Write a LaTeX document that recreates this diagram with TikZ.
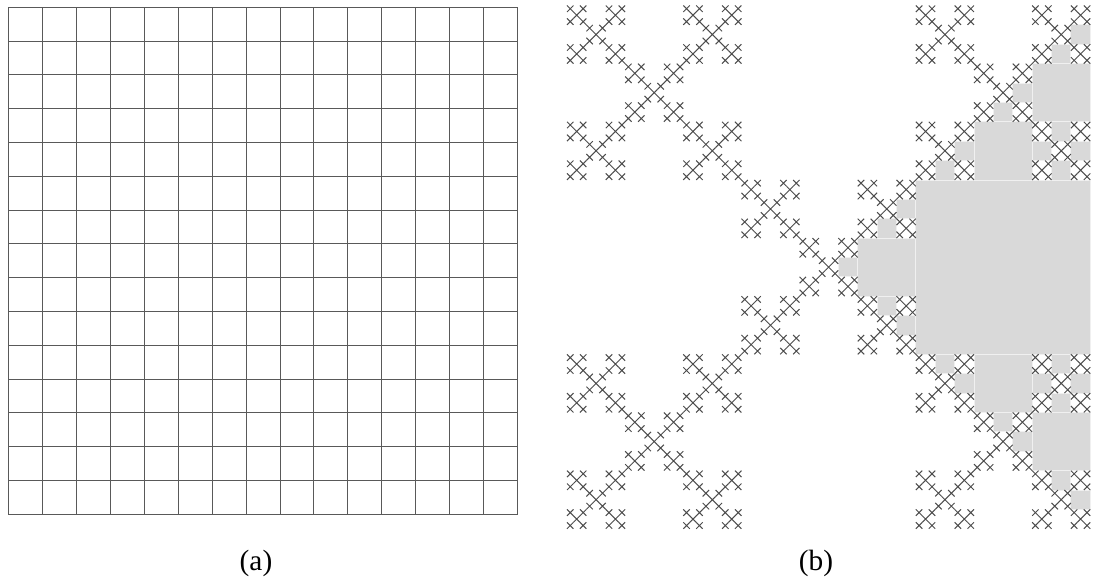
\documentclass[tikz,border=0pt]{standalone}
\usepackage{fontspec}
\setmainfont{Liberation Serif}

% pattern of the X fractal, and the cells that are left open
\def\xcells{0/0,2/0,1/1,0/2,2/2}
\def\xholes{1/0,0/1,2/1,1/2}

% open cell (x,y,size in fractal units) -- filled if it lies in the right wedge
\newcommand\fillhole[3]{%
  \pgfmathtruncatemacro\inwedge{((#1)>=40.5)&&((#2)>=81-(#1))&&((#2)+(#3)<=(#1))}%
  \ifnum\inwedge=1
    \draw[hole] ({\fx+(#1)*\fu},{\fy+(#2)*\fu}) rectangle ++({(#3)*\fu},{(#3)*\fu});
  \fi}

\begin{document}
\begin{tikzpicture}[
  x=0.75pt, y=-0.75pt,
  gridline/.style={black!65, line width=0.6pt},
  crossline/.style={black!70, line width=0.75pt},
  hole/.style={fill=black!15, draw=black!6, line width=0.6pt},
  caption/.style={inner sep=0pt, font=\fontsize{22}{26}\selectfont},
]
  \useasboundingbox (0,0) rectangle (1093,580);

  % (a) plain 15x15 grid
  \foreach \i in {0,...,15} {
    \draw[gridline] ({8.3+33.95*\i},7.3) -- ({8.3+33.95*\i},514.3);
    \draw[gridline] (8.3,{7.3+33.8*\i}) -- (517.5,{7.3+33.8*\i});
  }
  \node[caption] (capa) at (256,563) {(a)};

  % (b) X fractal, origin and unit cell
  \def\fx{567}
  \def\fy{5.5}
  \def\fu{6.46}

  % filled holes, levels 1 to 3
  \fillhole{54}{27}{27}
  \foreach \ia/\ja in \xcells
    \foreach \hb/\kb in \xholes
      \fillhole{27*\ia+9*\hb}{27*\ja+9*\kb}{9};
  \foreach \ia/\ja in \xcells
    \foreach \ib/\jb in \xcells
      \foreach \hc/\kc in \xholes
        \fillhole{27*\ia+9*\ib+3*\hc}{27*\ja+9*\jb+3*\kc}{3};

  % smallest crosses
  \foreach \ia/\ja in \xcells
    \foreach \ib/\jb in \xcells
      \foreach \ic/\jc in \xcells
        \foreach \id/\jd in \xcells
          \draw[crossline] ({\fx+(27*\ia+9*\ib+3*\ic+\id)*\fu},{\fy+(27*\ja+9*\jb+3*\jc+\jd)*\fu})
            -- ++(\fu,\fu) ++(-\fu,0) -- ++(\fu,-\fu);
  \node[caption] (capb) at (816,563) {(b)};
\end{tikzpicture}
\end{document}
